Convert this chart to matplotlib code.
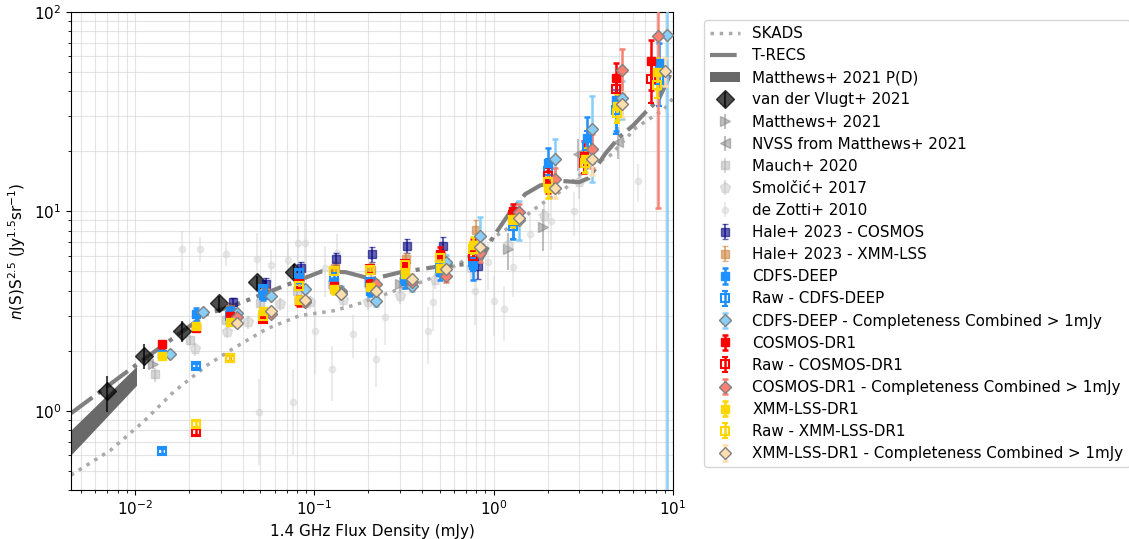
import matplotlib
matplotlib.use("Agg")
import matplotlib.pyplot as plt
import numpy as np

# ---- model curves ----
skads_x = [0.0044, 0.0073, 0.0111, 0.0164, 0.025, 0.035, 0.054, 0.083, 0.128, 0.17, 0.21,
           0.28, 0.42, 0.65, 1.0, 1.35, 1.82, 2.5, 3.5, 4.4, 6.2, 7.3, 8.9, 10.0]
skads_y = [0.475, 0.633, 0.877, 1.24, 1.68, 2.04, 2.57, 3.0, 3.17, 3.4, 3.63,
           3.99, 4.5, 5.5, 7.4, 8.8, 10.8, 13.0, 17.2, 18.8, 26.2, 28.9, 32.4, 37.0]

trecs_x = [0.0044, 0.01, 0.025, 0.035, 0.065, 0.11, 0.15, 0.21, 0.3, 0.5, 0.7, 0.84, 1.0,
           1.23, 1.5, 1.82, 2.4, 3.0, 3.4, 4.2, 5.0, 6.0, 7.1, 8.3, 10.0]
trecs_y = [0.97, 1.68, 3.05, 3.35, 4.16, 5.0, 4.95, 4.57, 4.94, 5.3, 5.43, 5.6, 7.5,
           9.85, 12.2, 13.5, 14.2, 14.0, 14.7, 19.5, 23.5, 27.0, 31.7, 36.3, 52.0]

# Matthews+ 2021 P(D) band
pd_x = [0.0044, 0.0102]
pd_lo = [0.60, 1.34]
pd_hi = [0.80, 1.67]

# ---- literature counts ----
vdv_x = [0.00695, 0.0112, 0.0182, 0.0295, 0.0477, 0.0771]
vdv_y = [1.26, 1.87, 2.52, 3.46, 4.40, 4.97]
vdv_lo = [0.28, 0.25, 0.3, 0.3, 0.35, 0.4]
vdv_hi = [0.24, 0.29, 0.3, 0.3, 0.35, 0.45]

mat_x = [0.0126, 0.3, 1.21, 1.89]
mat_y = [1.72, 4.3, 6.45, 8.3]
mat_err = [0.1, 0.4, 1.35, 2.0]

nvss_x = [2.95, 4.95]
nvss_y = [19.5, 22.4]
nvss_err = [3.5, 4.0]

mauch_x = [0.0129, 0.0203, 0.032, 0.05, 0.08, 0.126, 0.2, 0.32, 0.5, 0.79]
mauch_y = [1.52, 2.25, 2.85, 3.45, 4.0, 4.3, 4.35, 4.5, 5.0, 5.6]
mauch_err = [0.12, 0.15, 0.15, 0.2, 0.25, 0.3, 0.3, 0.35, 0.4, 0.5]

smol_x = [0.0216, 0.0325, 0.0429, 0.0645, 0.0946, 0.145, 0.2, 0.3, 0.47, 0.75, 1.2, 1.9, 3.0]
smol_y = [2.04, 2.47, 2.78, 3.43, 3.49, 3.6, 3.5, 3.77, 4.5, 5.2, 6.8, 9.5, 14.0]
smol_err = [0.15, 0.15, 0.2, 0.25, 0.25, 0.3, 0.3, 0.35, 0.4, 0.6, 0.9, 1.4, 2.5]

dz_x = [0.0184, 0.0232, 0.0323, 0.048, 0.049, 0.057, 0.0715, 0.076, 0.081, 0.089, 0.101,
        0.115, 0.125, 0.133, 0.165, 0.22, 0.248, 0.43, 0.46, 0.785, 0.93, 1.01, 1.14,
        1.28, 1.6, 2.1, 2.8, 6.4]
dz_y = [6.5, 6.5, 6.1, 5.75, 0.985, 5.4, 5.7, 1.1, 6.96, 6.96, 2.52, 5.2, 1.62, 6.2,
        2.43, 1.82, 2.94, 2.52, 3.5, 3.99, 5.54, 3.56, 3.23, 5.23, 7.7, 8.9, 10.0, 14.2]
dz_err = [1.5, 0.9, 0.8, 2.0, 0.45, 1.0, 1.2, 0.5, 1.5, 2.0, 1.0, 1.5, 0.5, 1.5,
          0.6, 0.5, 0.8, 0.8, 1.0, 1.3, 1.5, 1.2, 1.0, 1.5, 2.0, 2.5, 2.5, 3.0]

hc_x = [0.035, 0.054, 0.084, 0.132, 0.209, 0.33, 0.52, 0.82]
hc_y = [3.49, 4.31, 5.22, 5.75, 6.09, 6.7, 6.7, 5.3]
hc_err = [0.2, 0.3, 0.35, 0.4, 0.5, 0.55, 0.75, 0.7]

hx_x = [0.034, 0.053, 0.083, 0.131, 0.207, 0.325, 0.51, 0.8]
hx_y = [3.25, 3.95, 4.7, 5.22, 5.1, 5.75, 6.0, 8.1]
hx_err = [0.2, 0.25, 0.3, 0.35, 0.4, 0.45, 0.6, 1.0]

# ---- this work ----
cdfs_x = [0.0141, 0.022, 0.034, 0.052, 0.082, 0.128, 0.205, 0.32, 0.5, 0.77, 1.28, 2.02, 3.3, 4.8, 8.4]
cdfs_y = [1.93, 3.05, 3.15, 3.8, 4.6, 4.4, 3.99, 4.47, 4.98, 5.35, 8.9, 17.5, 23.3, 36.3, 55.6]
cdfs_err = [0.08, 0.22, 0.15, 0.2, 0.25, 0.25, 0.25, 0.35, 0.45, 0.8, 1.6, 3.3, 6.5, 11.0, 14.0]
cdfs_raw_y = [0.626, 1.68, 3.0, 4.06, 4.9, 4.66, 4.4, 4.6, 5.2, 5.6, 8.47, 15.9, 21.2, 32.4, 45.7]
cdfs_raw_err = [0.02, 0.04, 0.08, 0.1, 0.15, 0.2, 0.2, 0.3, 0.4, 0.6, 1.2, 2.5, 4.0, 8.0, 12.0]

cosmos_x = [0.0141, 0.022, 0.034, 0.052, 0.082, 0.128, 0.205, 0.32, 0.5, 0.77, 1.28, 2.02, 3.2, 4.8, 7.5]
cosmos_y = [2.15, 2.6, 2.97, 3.05, 3.55, 4.22, 4.3, 5.3, 6.09, 6.6, 10.0, 14.2, 19.0, 46.5, 56.6]
cosmos_err = [0.08, 0.1, 0.12, 0.15, 0.2, 0.25, 0.3, 0.35, 0.5, 0.7, 0.9, 1.8, 3.5, 9.0, 16.0]
cosmos_raw_x = [0.022, 0.034, 0.052, 0.082, 0.128, 0.205, 0.32, 0.5, 0.77, 1.28, 2.02, 3.2, 4.8, 7.5]
cosmos_raw_y = [0.782, 1.83, 2.9, 4.31, 5.0, 5.13, 5.43, 5.86, 5.98, 9.6, 15.0, 17.5, 41.0, 45.9]
cosmos_raw_err = [0.03, 0.05, 0.1, 0.15, 0.2, 0.2, 0.25, 0.3, 0.4, 0.8, 1.5, 2.0, 6.0, 11.0]

xmm_x = [0.0141, 0.022, 0.034, 0.052, 0.082, 0.128, 0.205, 0.32, 0.5, 0.77, 1.28, 2.02, 3.25, 4.9, 8.1]
xmm_y = [1.89, 2.67, 2.78, 3.17, 3.6, 4.06, 4.15, 4.84, 5.22, 6.8, 9.12, 13.1, 18.2, 33.6, 49.9]
xmm_err = [0.06, 0.08, 0.1, 0.12, 0.15, 0.2, 0.2, 0.3, 0.4, 0.6, 0.8, 1.5, 2.5, 5.0, 9.0]
xmm_raw_x = [0.022, 0.034, 0.052, 0.082, 0.128, 0.205, 0.32, 0.5, 0.77, 1.28, 2.02, 3.25, 4.9, 8.1]
xmm_raw_y = [0.86, 1.83, 3.0, 4.24, 5.0, 5.05, 5.35, 5.8, 6.5, 9.0, 14.0, 17.5, 31.1, 43.1]
xmm_raw_err = [0.03, 0.05, 0.1, 0.15, 0.2, 0.2, 0.25, 0.3, 0.4, 0.7, 1.2, 2.0, 3.5, 6.0]

comp_cdfs_x = [0.0157, 0.024, 0.037, 0.057, 0.089, 0.14, 0.222, 0.35, 0.54, 0.84, 1.38, 2.2, 3.55, 5.2, 9.2]
comp_cdfs_y = [1.93, 3.11, 3.09, 3.78, 4.1, 4.0, 3.56, 4.22, 5.54, 7.53, 9.1, 18.2, 25.9, 37.0, 76.7]
comp_cdfs_lo = [0.05, 0.1, 0.1, 0.12, 0.15, 0.2, 0.2, 0.25, 0.4, 0.9, 1.9, 4.8, 11.9, 8.0, 76.7]
comp_cdfs_hi = [0.05, 0.1, 0.1, 0.12, 0.15, 0.2, 0.2, 0.25, 0.5, 1.8, 2.2, 4.8, 11.9, 8.0, 200.0]

comp_cosmos_x = [0.037, 0.057, 0.089, 0.14, 0.222, 0.35, 0.54, 0.84, 1.38, 2.2, 3.55, 5.2, 8.2]
comp_cosmos_y = [2.94, 3.05, 3.5, 3.9, 4.3, 4.4, 4.76, 6.2, 9.9, 14.5, 20.5, 51.0, 75.4]
comp_cosmos_lo = [0.1, 0.1, 0.15, 0.2, 0.25, 0.3, 0.35, 0.6, 1.0, 2.0, 4.0, 12.2, 65.0]
comp_cosmos_hi = [0.1, 0.1, 0.15, 0.2, 0.25, 0.3, 0.35, 0.6, 1.0, 2.0, 4.0, 14.0, 200.0]

comp_xmm_x = [0.037, 0.057, 0.089, 0.14, 0.222, 0.35, 0.54, 0.84, 1.38, 2.2, 3.55, 5.2, 9.0]
comp_xmm_y = [2.74, 3.17, 3.6, 3.84, 3.99, 4.6, 5.13, 6.65, 9.3, 13.1, 18.2, 34.7, 50.5]
comp_xmm_err = [0.08, 0.1, 0.12, 0.15, 0.2, 0.25, 0.3, 0.5, 0.8, 1.5, 3.0, 5.0, 8.0]

plt.rcParams['font.size'] = 11
fig = plt.figure(figsize=(11.29, 5.39), dpi=100)
ax = fig.add_axes([71/1129, 1-490/539, (673-71)/1129, (490-12)/539])

ax.plot(skads_x, skads_y, ls=':', color='#aaaaaa', lw=2.5, label='SKADS', zorder=2)
ax.plot(trecs_x, trecs_y, ls='-.', color='grey', lw=3, label='T-RECS', zorder=2)
ax.fill_between(pd_x, pd_lo, pd_hi, color='dimgrey', lw=0, label='Matthews+ 2021 P(D)', zorder=2)

ax.errorbar(vdv_x, vdv_y, yerr=[vdv_lo, vdv_hi], fmt='D', color='black', alpha=0.7, ms=9,
            label='van der Vlugt+ 2021', zorder=3)
ax.errorbar(mat_x, mat_y, yerr=mat_err, fmt='>', color='grey', alpha=0.5, ms=7,
            label='Matthews+ 2021', zorder=1)
ax.errorbar(nvss_x, nvss_y, yerr=nvss_err, fmt='<', color='grey', alpha=0.5, ms=7,
            label='NVSS from Matthews+ 2021', zorder=1)
ax.errorbar(mauch_x, mauch_y, yerr=mauch_err, fmt='s', color='darkgrey', alpha=0.45, ms=6,
            label='Mauch+ 2020', zorder=1)
ax.errorbar(smol_x, smol_y, yerr=smol_err, fmt='p', color='silver', alpha=0.45, ms=8,
            label='Smolčić+ 2017', zorder=1)
ax.errorbar(dz_x, dz_y, yerr=dz_err, fmt='o', color='lightgrey', alpha=0.45, ms=4.5,
            label='de Zotti+ 2010', zorder=1)

ax.errorbar(hc_x, hc_y, yerr=hc_err, fmt='s', color='navy', alpha=0.6, ms=6, capsize=2.5,
            label='Hale+ 2023 - COSMOS', zorder=4)
ax.errorbar(hx_x, hx_y, yerr=hx_err, fmt='s', color='peru', alpha=0.6, ms=6, capsize=2.5,
            label='Hale+ 2023 - XMM-LSS', zorder=4)

kw = dict(ms=6, capsize=2.5, elinewidth=1.8, capthick=1.8, zorder=5)
ax.errorbar(cdfs_x, cdfs_y, yerr=cdfs_err, fmt='s', color='dodgerblue', label='CDFS-DEEP', **kw)
ax.errorbar(cdfs_x, cdfs_raw_y, yerr=cdfs_raw_err, fmt='s', color='dodgerblue', mfc='none',
            mew=1.5, label='Raw - CDFS-DEEP', **kw)
ax.errorbar(comp_cdfs_x, comp_cdfs_y, yerr=[comp_cdfs_lo, comp_cdfs_hi], fmt='D', color='lightskyblue',
            mec='grey', label='CDFS-DEEP - Completeness Combined > 1mJy', **kw)

ax.errorbar(cosmos_x, cosmos_y, yerr=cosmos_err, fmt='s', color='red', label='COSMOS-DR1', **kw)
ax.errorbar(cosmos_raw_x, cosmos_raw_y, yerr=cosmos_raw_err, fmt='s', color='red', mfc='none',
            mew=1.5, label='Raw - COSMOS-DR1', **kw)
ax.errorbar(comp_cosmos_x, comp_cosmos_y, yerr=[comp_cosmos_lo, comp_cosmos_hi], fmt='D', color='salmon',
            mec='grey', label='COSMOS-DR1 - Completeness Combined > 1mJy', **kw)

ax.errorbar(xmm_x, xmm_y, yerr=xmm_err, fmt='s', color='gold', label='XMM-LSS-DR1', **kw)
ax.errorbar(xmm_raw_x, xmm_raw_y, yerr=xmm_raw_err, fmt='s', color='gold', mfc='none',
            mew=1.5, label='Raw - XMM-LSS-DR1', **kw)
ax.errorbar(comp_xmm_x, comp_xmm_y, yerr=comp_xmm_err, fmt='D', color='navajowhite',
            mec='grey', label='XMM-LSS-DR1 - Completeness Combined > 1mJy', **kw)

ax.set_xscale('log')
ax.set_yscale('log')
ax.set_xlim(0.0044, 10)
ax.set_ylim(0.4, 100)
ax.grid(True, which='both', color='lightgrey', alpha=0.6, lw=0.8)
ax.set_axisbelow(True)
ax.set_xlabel('1.4 GHz Flux Density (mJy)')
ax.set_ylabel(r'$n$(S)S$^{2.5}$ (Jy$^{1.5}$sr$^{-1}$)')

ax.legend(loc='upper left', bbox_to_anchor=(704/1129, 1-20/539), bbox_transform=fig.transFigure,
          borderaxespad=0, fontsize=10.9, labelspacing=0.47)

fig.savefig('out.png', dpi=100)
